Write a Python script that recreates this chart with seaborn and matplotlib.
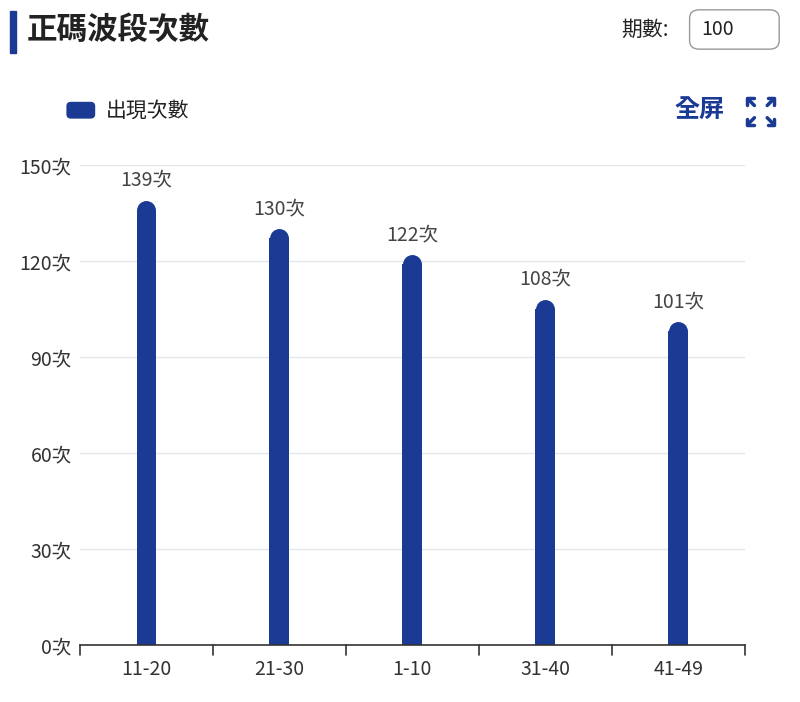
import matplotlib
matplotlib.use("Agg")
import matplotlib.pyplot as plt
import seaborn as sns
import pandas as pd
from matplotlib.patches import FancyBboxPatch, Rectangle
from matplotlib.lines import Line2D

categories = ["11-20", "21-30", "1-10", "31-40", "41-49"]
counts = [139, 130, 122, 108, 101]
yticks = [0, 30, 60, 90, 120, 150]

sns.set_theme(style="white")
plt.rcParams['font.family'] = ['Noto Sans CJK TC', 'DejaVu Sans']
BLUE = "#1a3a94"

fig = plt.figure(figsize=(8, 7.02), dpi=100)
ax = fig.add_axes([0.1, 0.081, 0.831, 0.684])
df = pd.DataFrame({"cat": categories, "n": counts})
sns.barplot(data=df, x="cat", y="n", color=BLUE, width=0.15, saturation=1, ax=ax)
ax.set_ylim(0, 150)
ax.set_xlim(-0.5, 4.5)
r = 9.5 / (480 / 150)
for p, v in zip(ax.patches, counts):
    p.set_height(v - r)
    p.set_linewidth(0)
    cx = p.get_x() + p.get_width() / 2
    ax.plot([cx], [v - r], marker="o", ms=13.6, color=BLUE, mec="none", zorder=p.get_zorder())
    ax.text(cx, v + 3, f"{v}次", ha="center", va="bottom", fontsize=14, color="#444444")
ax.set_yticks(yticks)
ax.set_yticklabels([f"{t}次" for t in yticks], fontsize=14, color="#333333")
ax.set_xticks(range(len(categories)))
ax.set_xticklabels(categories, fontsize=14, color="#333333")
ax.tick_params(axis="x", length=0, pad=10)
ax.tick_params(axis="y", length=0, pad=6)
for b in [-0.5, 0.5, 1.5, 2.5, 3.5, 4.5]:
    ax.plot([b, b], [0, -3], color="#333333", lw=1.2, clip_on=False)
ax.set_xlabel("")
ax.set_ylabel("")
ax.grid(axis="y", color="#e3e6ea", lw=1)
ax.set_axisbelow(True)
for s in ["top", "right", "left"]:
    ax.spines[s].set_visible(False)
ax.spines["bottom"].set_color("#333333")
ax.spines["bottom"].set_linewidth(1.2)

fig.add_artist(Rectangle((0.012, 0.925), 0.008, 0.06, transform=fig.transFigure, color=BLUE))
fig.text(0.033, 0.958, "正碼波段次數", fontsize=22, fontweight="bold", color="#222222", va="center")
fig.text(0.777, 0.958, "期數:", fontsize=15, color="#222222", va="center")
fig.add_artist(FancyBboxPatch((0.862, 0.93), 0.112, 0.056, boxstyle="round,pad=0,rounding_size=0.012",
                              transform=fig.transFigure, fc="white", ec="#999999", lw=1))
fig.text(0.877, 0.958, "100", fontsize=14, color="#222222", va="center")

fig.add_artist(FancyBboxPatch((0.083, 0.831), 0.036, 0.024, boxstyle="round,pad=0,rounding_size=0.006",
                              transform=fig.transFigure, fc=BLUE, ec="none"))
fig.text(0.132, 0.842, "出現次數", fontsize=15, color="#222222", va="center")

fig.text(0.843, 0.842, "全屏", fontsize=18, fontweight="bold", color=BLUE, va="center")
cx, cy, w, h, l = 0.951, 0.841, 0.017, 0.019, 0.008
for sx in (-1, 1):
    for sy in (-1, 1):
        x0, y0 = cx + sx * w, cy + sy * h
        fig.add_artist(Line2D([x0, x0, x0 - sx * l], [y0 - sy * l * 1.14, y0, y0],
                              transform=fig.transFigure, color=BLUE, lw=2.5))
        fig.add_artist(Line2D([x0 - sx * 0.003, x0 - sx * 0.009], [y0 - sy * 0.0034, y0 - sy * 0.0103],
                              transform=fig.transFigure, color=BLUE, lw=2.5))

fig.savefig("out.png", dpi=100, facecolor="white")
